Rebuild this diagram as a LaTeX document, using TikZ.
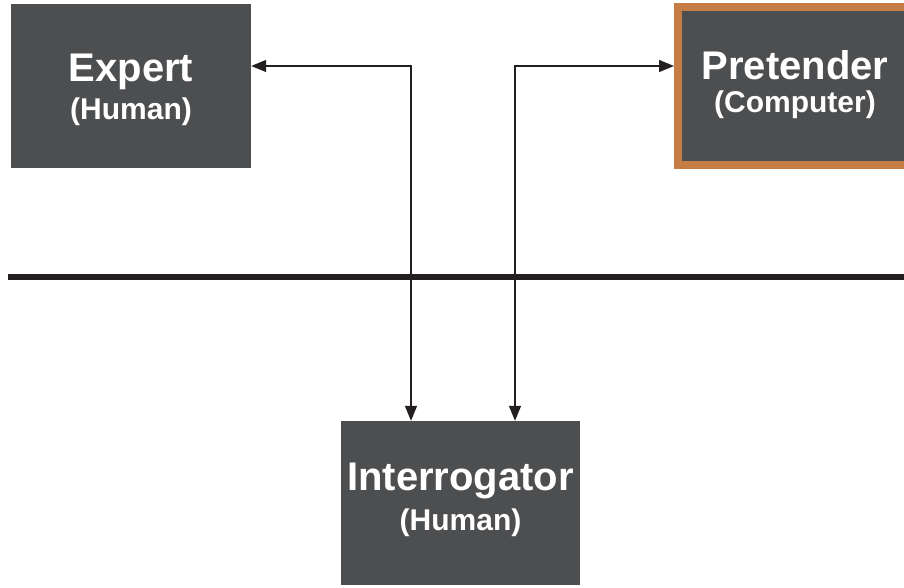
\documentclass[tikz,border=0pt]{standalone}
\usepackage{fontspec}
\setmainfont{Liberation Sans}
\usetikzlibrary{arrows.meta,calc,positioning}
\definecolor{TestSlate}{HTML}{4D4E50}
\definecolor{TestCopper}{HTML}{C67D45}
\definecolor{TestInk}{HTML}{231F20}
\tikzset{
  every node/.style={text=white},
  player/.style={fill=TestSlate, inner sep=0pt},
  machine/.style={player, draw=TestCopper, line width=8pt},
  title/.style={anchor=base, inner sep=0pt, font=\bfseries\fontsize{40}{40}\selectfont},
  role/.style={anchor=base, inner sep=0pt, font=\bfseries\fontsize{30}{30}\selectfont},
  channel/.style={{Triangle[length=15pt,width=12pt]}-{Triangle[length=15pt,width=12pt]},
    draw=TestInk, line width=1.3pt},
  divider/.style={draw=TestInk, line width=6pt},
}
\begin{document}
\begin{tikzpicture}[x=1pt, y=-1pt]
  \useasboundingbox (0,0) rectangle (904,588);
  % The three players of the game
  \node[player, minimum width=240pt, minimum height=164pt] (expert) at (131,86) {};
  \node[machine, minimum width=234pt, minimum height=158pt] (pretender) at (795,86) {};
  \node[player, minimum width=239pt, minimum height=164pt] (interrogator) at (460.5,503) {};
  \node[title] (expert title) at ([yshift=4pt]expert.center) {Expert};
  \node[role] (expert role) at ([yshift=-34pt]expert.center) {(Human)};
  \node[title] (pretender title) at ([yshift=6pt]pretender.center) {Pretender};
  \node[role] (pretender role) at ([yshift=-27pt]pretender.center) {(Computer)};
  \node[title] (interrogator title) at ([yshift=13pt]interrogator.center) {Interrogator};
  \node[role] (interrogator role) at ([yshift=-27pt]interrogator.center) {(Human)};
  % Wall between interrogator and the hidden players
  \coordinate (wall west) at (8,277);
  \coordinate (wall east) at (904,277);
  % Question and answer channels
  \draw[channel] ([yshift=20pt]expert.east) -| ([xshift=-49.5pt]interrogator.north);
  \draw[channel] ([yshift=20pt]pretender.west) -| ([xshift=54.5pt]interrogator.north);
  \draw[divider] (wall west) -- (wall east);
\end{tikzpicture}
\end{document}
